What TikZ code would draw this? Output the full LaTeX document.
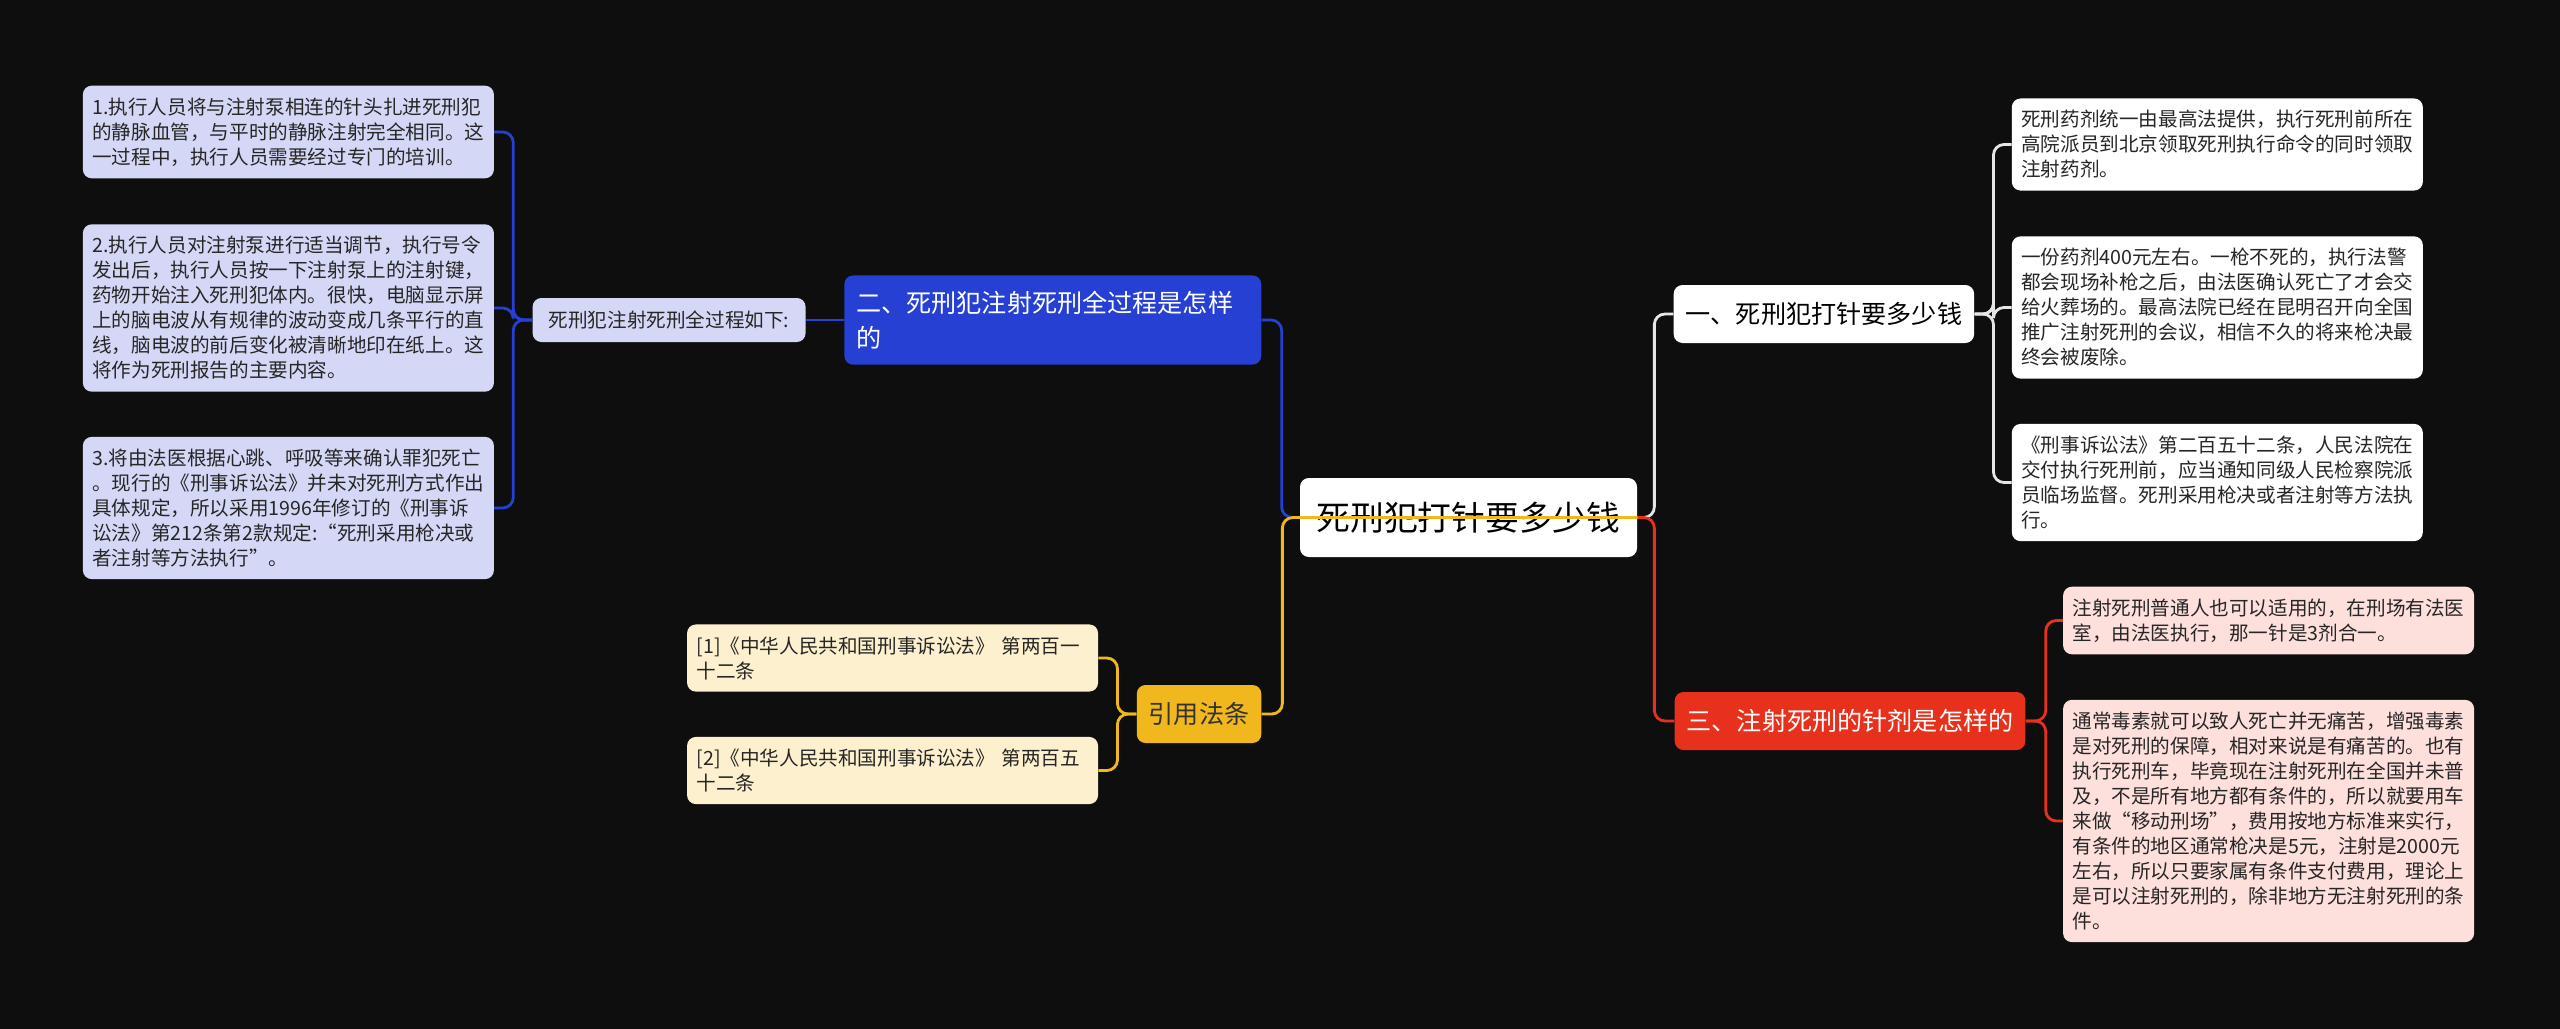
\documentclass[tikz,border=0pt]{standalone}
\usepackage{fontspec}
\setmainfont{Noto Sans CJK SC}
\usepackage{tikz}
\usetikzlibrary{positioning}

\definecolor{bgdark}{HTML}{0E0E0E}
\definecolor{blueB}{HTML}{2640D4}
\definecolor{blueL}{HTML}{D4D8F6}
\definecolor{goldB}{HTML}{F0B81C}
\definecolor{goldL}{HTML}{FDF0CE}
\definecolor{redB}{HTML}{E8311D}
\definecolor{redL}{HTML}{FDDFDC}
\definecolor{lineW}{HTML}{E6E6E6}

\begin{document}
\begin{tikzpicture}[
  root/.style={fill=white,rounded corners=5pt,minimum width=6.74cm,minimum height=1.58cm,font=\fontsize{19.2pt}{23pt}\selectfont},
  branch/.style={fill=#1,rounded corners=5pt,minimum height=1.16cm,inner xsep=0.24cm,font=\fontsize{14.3pt}{20pt}\selectfont},
  leaf/.style={fill=#1,rounded corners=5pt,text width=7.84cm,align=left,inner xsep=0.19cm,inner ysep=0.24cm,text=black!85,font=\fontsize{11.15pt}{14.23pt}\selectfont},
  link/.style={draw=#1,line width=1.6pt,rounded corners=6pt},
]
\fill[bgdark] (0,0) rectangle (51.2,-20.58);
\useasboundingbox (0,0) rectangle (51.2,-20.58);

\node[root] (root) at (29.37,-10.35) {死刑犯打针要多少钱};
% right side
\node[branch=white, right=0.72cm of root, yshift=4.07cm] (cost) {一、死刑犯打针要多少钱};
\node[branch=redB, text=white, right=0.74cm of root, yshift=-4.07cm] (drug) {三、注射死刑的针剂是怎样的};
\node[leaf=white, right=0.74cm of cost, yshift=3.39cm] (cost1) {死刑药剂统一由最高法提供，执行死刑前所在\\高院派员到北京领取死刑执行命令的同时领取\\注射药剂。};
\node[leaf=white, right=0.74cm of cost, yshift=0.13cm] (cost2) {一份药剂400元左右。一枪不死的，执行法警\\都会现场补枪之后，由法医确认死亡了才会交\\给火葬场的。最高法院已经在昆明召开向全国\\推广注射死刑的会议，相信不久的将来枪决最\\终会被废除。};
\node[leaf=white, right=0.74cm of cost, yshift=-3.37cm] (cost3) {《刑事诉讼法》第二百五十二条，人民法院在\\交付执行死刑前，应当通知同级人民检察院派\\员临场监督。死刑采用枪决或者注射等方法执\\行。};
\node[leaf=redL, right=0.74cm of drug, yshift=2.01cm] (drug1) {注射死刑普通人也可以适用的，在刑场有法医\\室，由法医执行，那一针是3剂合一。};
\node[leaf=redL, right=0.74cm of drug, yshift=-2.0cm] (drug2) {通常毒素就可以致人死亡并无痛苦，增强毒素\\是对死刑的保障，相对来说是有痛苦的。也有\\执行死刑车，毕竟现在注射死刑在全国并未普\\及，不是所有地方都有条件的，所以就要用车\\来做“移动刑场”，费用按地方标准来实行，\\有条件的地区通常枪决是5元，注射是2000元\\左右，所以只要家属有条件支付费用，理论上\\是可以注射死刑的，除非地方无注射死刑的条\\件。};
% left side
\node[branch=blueB, text=white, text width=7.86cm, align=left, inner ysep=0.31cm, left=0.76cm of root, yshift=3.95cm] (proc) {二、死刑犯注射死刑全过程是怎样\\的};
\node[branch=goldB, text=black!80, left=0.76cm of root, yshift=-3.93cm] (cite) {引用法条};
\node[fill=blueL, rounded corners=5pt, minimum width=5.46cm, minimum height=0.88cm, text=black!85, font=\fontsize{11.15pt}{14.23pt}\selectfont, left=0.76cm of proc] (steps) {死刑犯注射死刑全过程如下:};
\node[leaf=blueL, left=0.76cm of steps, yshift=3.76cm] (step1) {1.执行人员将与注射泵相连的针头扎进死刑犯\\的静脉血管，与平时的静脉注射完全相同。这\\一过程中，执行人员需要经过专门的培训。};
\node[leaf=blueL, left=0.76cm of steps, yshift=0.24cm] (step2) {2.执行人员对注射泵进行适当调节，执行号令\\发出后，执行人员按一下注射泵上的注射键，\\药物开始注入死刑犯体内。很快，电脑显示屏\\上的脑电波从有规律的波动变成几条平行的直\\线，脑电波的前后变化被清晰地印在纸上。这\\将作为死刑报告的主要内容。};
\node[leaf=blueL, left=0.76cm of steps, yshift=-3.76cm] (step3) {3.将由法医根据心跳、呼吸等来确认罪犯死亡\\。现行的《刑事诉讼法》并未对死刑方式作出\\具体规定，所以采用1996年修订的《刑事诉\\讼法》第212条第2款规定:“死刑采用枪决或\\者注射等方法执行”。};
\node[leaf=goldL, left=0.76cm of cite, yshift=1.12cm] (cite1) {[1]《中华人民共和国刑事诉讼法》 第两百一\\十二条};
\node[leaf=goldL, left=0.76cm of cite, yshift=-1.13cm] (cite2) {[2]《中华人民共和国刑事诉讼法》 第两百五\\十二条};

% connectors
\draw[link=lineW] (root.east) -- ++(0.34,0) |- (cost.west);
\draw[link=redB] (root.east) -- ++(0.34,0) |- (drug.west);
\draw[link=blueB] (root.west) -- ++(-0.36,0) |- (proc.east);
\draw[link=goldB] (root.east) -- ++(-7.1,0) |- (cite.east);
\draw[link=blueB] (proc.west) -- (steps.east);
\foreach \n in {step1,step2,step3} \draw[link=blueB] (steps.west) -- ++(-0.38,0) |- (\n.east);
\foreach \n in {cite1,cite2} \draw[link=goldB] (cite.west) -- ++(-0.38,0) |- (\n.east);
\foreach \n in {cost1,cost2,cost3} \draw[link=lineW] (cost.east) -- ++(0.38,0) |- (\n.west);
\foreach \n in {drug1,drug2} \draw[link=redB] (drug.east) -- ++(0.4,0) |- (\n.west);
\end{tikzpicture}
\end{document}
